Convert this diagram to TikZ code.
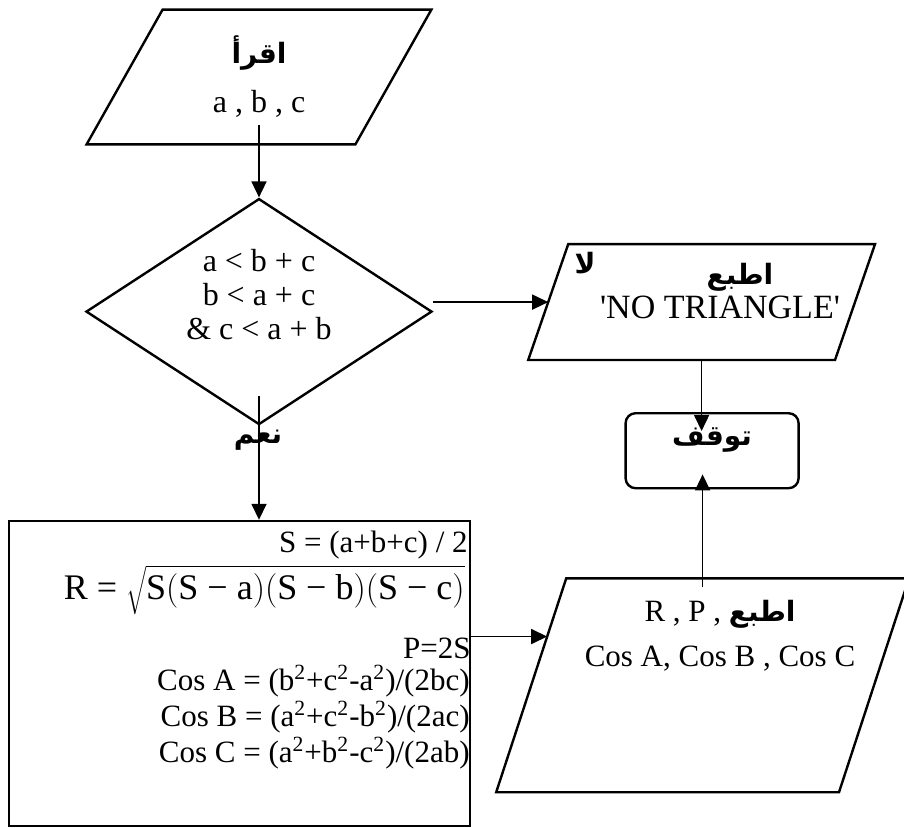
\documentclass[tikz,border=0pt]{standalone}
\usepackage{fontspec}
\setmainfont{Liberation Serif}
\newfontfamily\arabicfont[Script=Arabic]{DejaVu Sans}
\TeXXeTstate=1
\usetikzlibrary{positioning, calc, shapes.geometric, arrows.meta}

\newcommand{\arword}[1]{{\arabicfont\bfseries\fontsize{14}{16}\selectfont\beginR #1\endR}}
\newcommand{\eqsize}{\fontsize{15.5}{18}\selectfont}

\begin{document}
\begin{tikzpicture}[x=1pt, y=-1pt,
		% the box of an io node is its parallelogram without the slant, #1 is the slant
		io/.style={rectangle, inner sep=0pt,
			append after command={\pgfextra{\draw[line width=1.2pt]
				([xshift=#1/2]\tikzlastnode.north west) -- ([xshift=#1/2]\tikzlastnode.north east)
				-- ([xshift=-#1/2]\tikzlastnode.south east) -- ([xshift=-#1/2]\tikzlastnode.south west) -- cycle;}}},
		decision/.style={diamond, draw, line width=1.2pt, inner sep=0pt, minimum width=173pt, minimum height=113pt},
		stopbox/.style={rectangle, draw, line width=1.2pt, rounded corners=5pt, minimum width=86.5pt, minimum height=37.5pt},
		calcbox/.style={rectangle, draw, line width=1.3pt, minimum width=230.5pt, minimum height=152.5pt},
		eqn/.style={anchor=east, inner sep=0pt, font=\eqsize},
		conn/.style={line width=0.8pt},
		>={Triangle[length=8pt, width=7.5pt]}
	]

	\useasboundingbox (0,0) rectangle (452,414);

	\node[io=38pt, minimum width=134pt, minimum height=67pt,
		align=center, font=\fontsize{16}{24.5}\selectfont] (read) at (129.5,38.5) {\arword{اقرأ}\\a , b , c};
	\node[decision, below=26.5pt of read] (cond) {};
	\node[align=center, inner sep=0pt, font=\fontsize{16}{17}\selectfont] (condTxt) at ([yshift=8.5pt]cond.center)
		{a < b + c\\b < a + c\\\& c < a + b};
	\node[io=20pt, minimum width=153pt, minimum height=57.5pt, right=57.5pt of cond, yshift=4.75pt] (noTri) {};
	\node[stopbox, below=26pt of noTri, xshift=5.25pt, text height=10pt, text depth=15.5pt] (stop) {\arword{توقف}};
	\node[io=35pt, minimum width=171pt, minimum height=106.5pt, below=44.5pt of stop, xshift=-4.75pt] (print) {};
	\node[calcbox, below=47pt of cond, xshift=-9.75pt] (calc) {};

	% texts in the output boxes
	\node[inner sep=0pt] (noLbl) at (292.5,131.5) {\arword{لا}};
	\node[inner sep=0pt] (noPrint) at (370,138.5) {\arword{اطبع}};
	\node[inner sep=0pt, font=\fontsize{17}{20}\selectfont] (noMsg) at (360,153.5)
		{\textquotesingle NO TRIANGLE\textquotesingle};
	\node[inner sep=0pt, align=center, font=\fontsize{15.5}{22.5}\selectfont] (printTxt) at (360,318)
		{R , P , \arword{اطبع}\\Cos A, Cos B , Cos C};
	\node[inner sep=0pt] (yesLbl) at (129,220) {\arword{نعم}};

	% formulas, right aligned on the box edge
	\node[eqn] (sLine) at (234,272.5) {S = (a+b+c) / 2};
	\node[eqn, font=\fontsize{18}{20}\selectfont] (rLine) at (232.5,295)
		{R = $\sqrt{\mbox{S}\bigl(\mbox{S − a}\bigr)\bigl(\mbox{S − b}\bigr)\bigl(\mbox{S − c}\bigr)}$};
	\node[eqn] (pLine) at (235.5,324) {P=2S};
	\node[eqn] (cosA) at (235,340.5) {Cos A = (b\textsuperscript{2}+c\textsuperscript{2}-a\textsuperscript{2})/(2bc)};
	\node[eqn] (cosB) at (235,358.5) {Cos B = (a\textsuperscript{2}+c\textsuperscript{2}-b\textsuperscript{2})/(2ac)};
	\node[eqn] (cosC) at (235,376.5) {Cos C = (a\textsuperscript{2}+b\textsuperscript{2}-c\textsuperscript{2})/(2ab)};

	\coordinate (pIn) at ($([xshift=17.5pt]print.north west)!0.272!([xshift=-17.5pt]print.south west)$);

	% connectors
	\draw[->, conn, shorten <=-9.5pt] (cond.north |- read.south) -- (cond.north);
	\draw[->, conn] (cond.east |- noTri.west) -- (noTri.west);
	\draw[->, conn, shorten >=-9.5pt] (noTri.south) -- (noTri.south |- stop.north);
	\draw[->, conn, shorten <=-4.5pt, shorten >=-7.5pt] (print.north) -- (print.north |- stop.south);
	\draw[->, conn, shorten <=-15pt] (cond.south) -- (cond.south |- calc.north);
	\draw[->, conn] (calc.east |- pIn) -- (pIn);

\end{tikzpicture}
\end{document}
